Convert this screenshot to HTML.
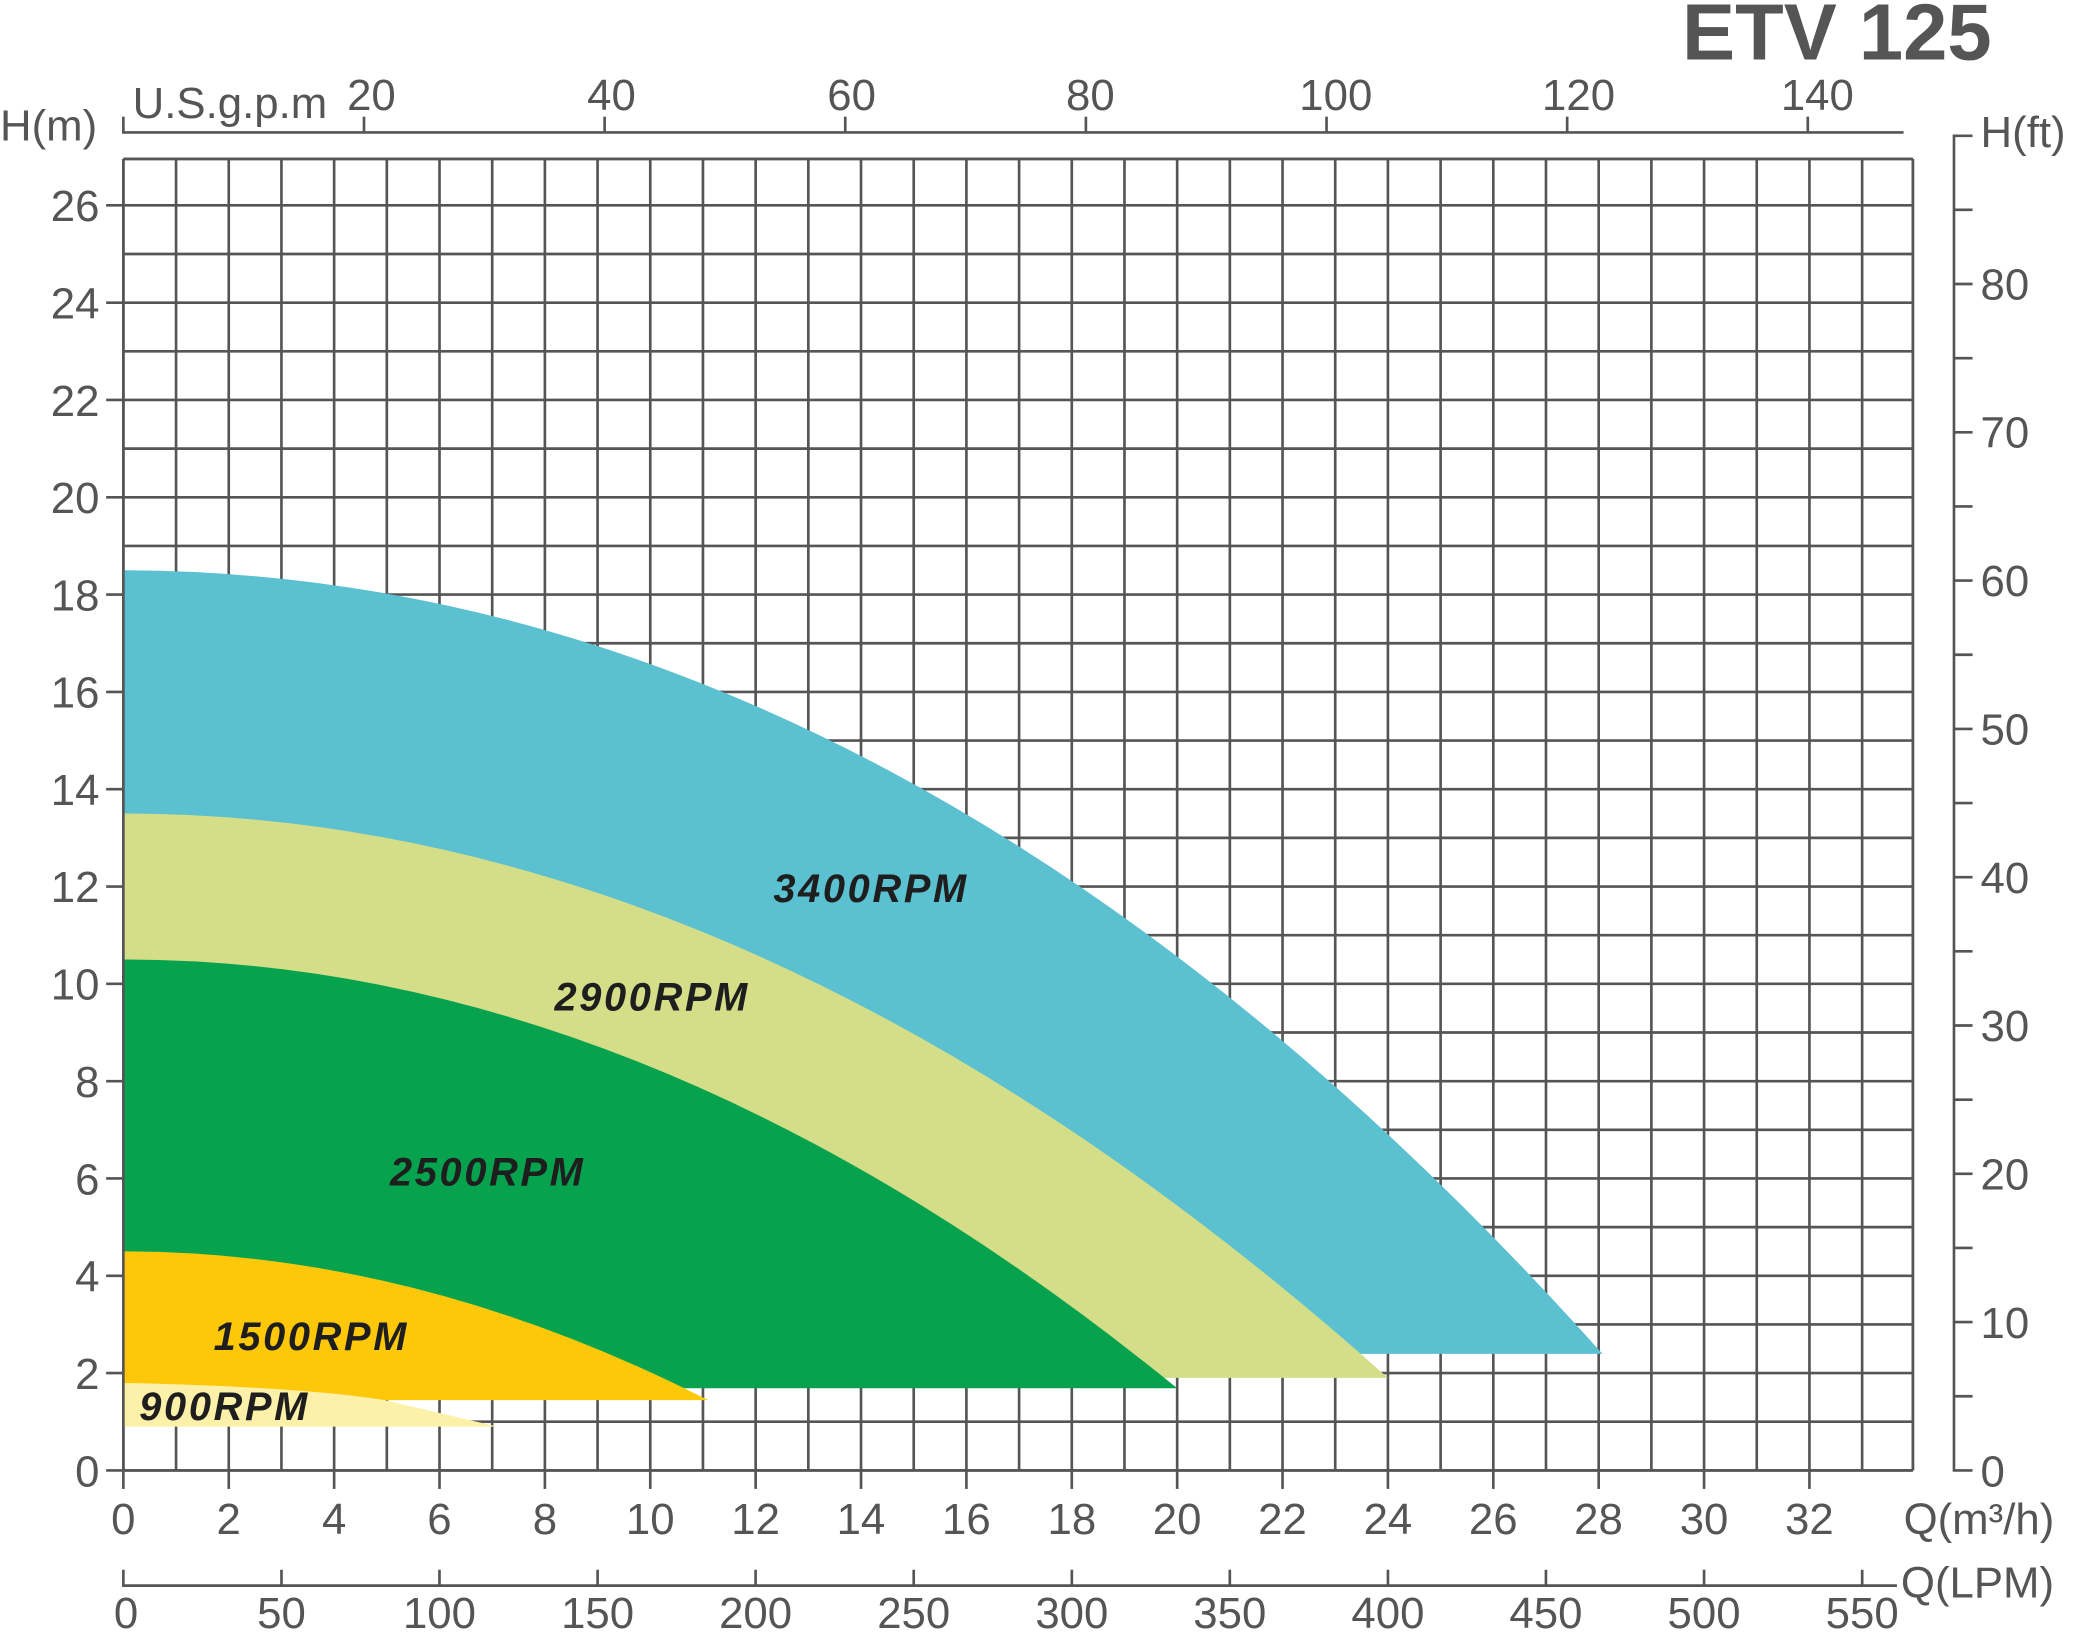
<!DOCTYPE html>
<html><head><meta charset="utf-8"><style>
html,body{margin:0;padding:0;background:#fff}
svg{display:block}
.t{font-family:"Liberation Sans",sans-serif;fill:#555;font-size:33px}
.r{font-family:"Liberation Sans",sans-serif;font-weight:bold;font-style:italic;fill:#1e1e1e;font-size:30px;letter-spacing:2px}
</style></head><body>
<svg width="2080" height="1632" viewBox="0 0 1568 1232" preserveAspectRatio="none" xmlns="http://www.w3.org/2000/svg">
<g id="grid" stroke="#555" stroke-width="2" fill="none"></g>
<path d="M93,430.5 Q680,432 1208,1022 L93,1022 Z" fill="#5bc0cf"/>
<path d="M93,614.1 Q569.6,614.1 1046.3,1040.2 L93,1040.2 Z" fill="#d4de88"/>
<path d="M93,724.3 Q490.2,724.3 887.4,1048 L93,1048 Z" fill="#07a24e"/>
<path d="M93,944.7 Q313.5,944.7 533.9,1057 L93,1057 Z" fill="#fdc80a"/>
<path d="M93,1044 Q230,1047 290,1057 L375,1077 L93,1077 Z" fill="#fdf0a8"/>
<g stroke="#555" stroke-width="2" fill="none">
<line x1="93" y1="1110" x2="1442" y2="1110"/>
<line x1="93" y1="120" x2="93" y2="1110"/>
<path d="M93,88 V100 H1435"/>
<path d="M274.4,88V100M455.8,88V100M637.2,88V100M818.6,88V100M1000,88V100M1181.4,88V100M1362.8,88V100"/>
<path d="M93,1185 V1197 H1430"/>
<path d="M212.2,1185V1197M331.3,1185V1197M450.5,1185V1197M569.6,1185V1197M688.8,1185V1197M808,1185V1197M927.1,1185V1197M1046.3,1185V1197M1165.4,1185V1197M1284.6,1185V1197M1403.8,1185V1197"/>
<path d="M1487,102.5 H1473 V1110 H1487"/>
<g id="ftt"></g>
<g id="lt"></g>
</g>
<text class="t" x="1268" y="45" style="font-size:60px;font-weight:bold;fill:#555">ETV 125</text>
<text class="t" x="0" y="106">H(m)</text>
<text class="t" x="100" y="89">U.S.g.p.m</text>
<g class="t" text-anchor="middle">
<text x="280" y="83">20</text><text x="461" y="83">40</text><text x="642" y="83">60</text><text x="822" y="83">80</text><text x="1007" y="83">100</text><text x="1190" y="83">120</text><text x="1370" y="83">140</text>
</g>
<g class="t" text-anchor="end">
<text x="75" y="1122">0</text><text x="75" y="1048.5">2</text><text x="75" y="975">4</text><text x="75" y="901.6">6</text><text x="75" y="828">8</text><text x="75" y="754.7">10</text><text x="75" y="681">12</text><text x="75" y="607.8">14</text><text x="75" y="534">16</text><text x="75" y="461">18</text><text x="75" y="387.4">20</text><text x="75" y="314">22</text><text x="75" y="240.5">24</text><text x="75" y="167">26</text>
</g>
<g class="t" text-anchor="middle">
<text x="93" y="1158">0</text><text x="172.4" y="1158">2</text><text x="251.9" y="1158">4</text><text x="331.3" y="1158">6</text><text x="410.8" y="1158">8</text><text x="490.2" y="1158">10</text><text x="569.6" y="1158">12</text><text x="649" y="1158">14</text><text x="728.5" y="1158">16</text><text x="808" y="1158">18</text><text x="887.4" y="1158">20</text><text x="966.8" y="1158">22</text><text x="1046.3" y="1158">24</text><text x="1125.7" y="1158">26</text><text x="1205" y="1158">28</text><text x="1284.6" y="1158">30</text><text x="1364" y="1158">32</text>
</g>
<text class="t" x="1435" y="1158">Q(m³/h)</text>
<g class="t" text-anchor="middle">
<text x="95" y="1229">0</text><text x="212.2" y="1229">50</text><text x="331.3" y="1229">100</text><text x="450.5" y="1229">150</text><text x="569.6" y="1229">200</text><text x="688.8" y="1229">250</text><text x="808" y="1229">300</text><text x="927.1" y="1229">350</text><text x="1046.3" y="1229">400</text><text x="1165.4" y="1229">450</text><text x="1284.6" y="1229">500</text><text x="1403.8" y="1229">550</text>
</g>
<text class="t" x="1433" y="1206">Q(LPM)</text>
<text class="t" x="1493" y="111">H(ft)</text>
<g class="t">
<text x="1493" y="1122">0</text><text x="1493" y="1010">10</text><text x="1493" y="898">20</text><text x="1493" y="786">30</text><text x="1493" y="674">40</text><text x="1493" y="562">50</text><text x="1493" y="450">60</text><text x="1493" y="338">70</text><text x="1493" y="226">80</text>
</g>
<g class="r">
<text x="583" y="681">3400RPM</text>
<text x="418" y="763">2900RPM</text>
<text x="294" y="895">2500RPM</text>
<text x="161" y="1019">1500RPM</text>
<text x="105" y="1072">900RPM</text>
</g>
<script>
(function(){
var ns="http://www.w3.org/2000/svg";
var g=document.getElementById('grid');
function L(p,x1,y1,x2,y2){var l=document.createElementNS(ns,'line');l.setAttribute('x1',x1);l.setAttribute('y1',y1);l.setAttribute('x2',x2);l.setAttribute('y2',y2);p.appendChild(l);}
for(var q=0;q<=34;q++){var x=93+39.72*q;if(x>1442)x=1442;L(g,x,120,x,1110);}
for(var m=0;m<=27;m++){var y=1110-36.73*m;if(y<120)y=120;L(g,93,y,1442,y);}
L(g,1442,120,1442,1110);L(g,93,120,1442,120);
var lt=document.getElementById('lt');
for(var m=0;m<=26;m+=2){var y=1110-36.73*m;L(lt,80,y,93,y);}
for(var q=0;q<=32;q+=2){var x=93+39.72*q;L(lt,x,1110,x,1124);}
var ft=document.getElementById('ftt');
for(var f=5;f<=85;f+=5){var y=1110-11.195*f;L(ft,1473,y,1487,y);}
})();
</script>
</svg>
</body></html>
